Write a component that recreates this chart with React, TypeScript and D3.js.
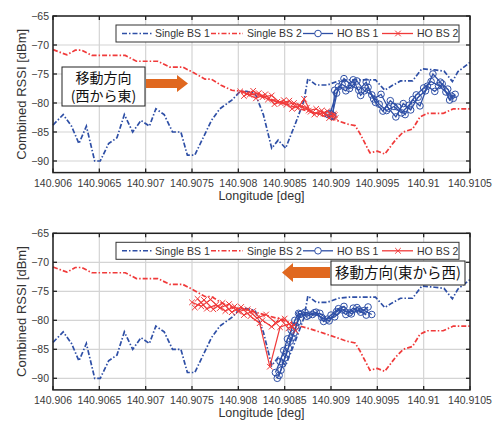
import React from "react";
import * as d3 from "d3";

type Pt = [number, number];

// axis ticks
const lonTicks = [140.906, 140.9065, 140.907, 140.9075, 140.908, 140.9085, 140.909, 140.9095, 140.91, 140.9105];
const lonLabels = ["140.906", "140.9065", "140.907", "140.9075", "140.908", "140.9085", "140.909", "140.9095", "140.91", "140.9105"];
const rssiTicks = [-65, -70, -75, -80, -85, -90];

const legendNames = ["Single BS 1", "Single BS 2", "HO BS 1", "HO BS 2"];

// single base station measurements (same in both panels)
const singleBs1: Pt[] = [
  [140.906, -83.8], [140.90611, -82.0], [140.9062, -84.0], [140.90628, -87.0], [140.90636, -84.0],
  [140.90645, -90.0], [140.90651, -90.0], [140.9066, -87.0], [140.90669, -86.0], [140.90677, -82.0],
  [140.90686, -85.0], [140.90695, -83.0], [140.90704, -84.0], [140.90711, -81.0], [140.9072, -82.0],
  [140.90729, -85.0], [140.90738, -85.0], [140.90745, -89.0], [140.90753, -89.0], [140.90762, -86.0],
  [140.90771, -83.0], [140.9078, -81.0], [140.90793, -79.5], [140.90802, -78.0], [140.90809, -78.0],
  [140.90818, -78.3], [140.90827, -82.0], [140.90836, -87.8], [140.90843, -86.4], [140.90851, -87.8],
  [140.90861, -83.8], [140.90871, -79.5], [140.90875, -75.8], [140.90884, -76.9], [140.90896, -76.9],
  [140.90908, -76.2], [140.9092, -76.0], [140.90935, -76.0], [140.90948, -76.0], [140.90958, -77.8],
  [140.90966, -77.0], [140.90975, -76.2], [140.90988, -76.2], [140.90998, -74.1], [140.91012, -74.3],
  [140.91022, -74.5], [140.91031, -76.3], [140.91037, -74.6], [140.9105, -73.0],
];

const singleBs2: Pt[] = [
  [140.906, -70.8], [140.90615, -71.7], [140.90624, -70.9], [140.90631, -70.9], [140.90642, -71.8],
  [140.90678, -71.8], [140.9069, -72.8], [140.90713, -72.8], [140.90726, -73.8], [140.9074, -73.8],
  [140.90752, -74.8], [140.90764, -75.9], [140.90771, -75.9], [140.90782, -77.0], [140.90793, -77.8],
  [140.90805, -78.0], [140.90825, -78.9], [140.90845, -79.8], [140.90862, -80.8], [140.9088, -81.6],
  [140.90899, -82.6], [140.90917, -83.6], [140.90926, -83.9], [140.90931, -85.2], [140.90942, -88.6],
  [140.9095, -88.3], [140.90958, -88.8], [140.9097, -86.3], [140.90978, -85.0], [140.90988, -84.5],
  [140.90996, -82.4], [140.91004, -81.8], [140.91021, -81.8], [140.91032, -81.0], [140.9105, -81.0],
];

// handover runs, west -> east (upper panel)
const hoBs1East: Pt[][] = [
  [[140.90897, -82.0], [140.90902, -82.1], [140.90904, -77.8], [140.90912, -76.8], [140.9092, -77.5],
   [140.90928, -76.2], [140.90936, -77.9], [140.90944, -78.6], [140.90952, -80.2], [140.9096, -81.3],
   [140.90968, -80.6], [140.90976, -81.7], [140.90984, -80.4], [140.90992, -78.6], [140.91, -77.4],
   [140.91008, -76.3], [140.91016, -77.0], [140.91024, -78.1], [140.91032, -79.2]],
  [[140.90899, -81.8], [140.90906, -78.3], [140.90914, -75.8], [140.90922, -76.9], [140.9093, -77.8],
   [140.90938, -76.4], [140.90946, -79.3], [140.90954, -78.5], [140.90962, -80.9], [140.9097, -82.4],
   [140.90978, -80.1], [140.90986, -81.2], [140.90994, -79.0], [140.91002, -77.9], [140.9101, -75.0],
   [140.91018, -76.4], [140.91026, -77.6], [140.9103, -78.8]],
  [[140.90901, -82.3], [140.90908, -77.2], [140.90916, -77.9], [140.90924, -76.0], [140.90932, -78.7],
   [140.9094, -77.3], [140.90948, -79.9], [140.90956, -81.4], [140.90964, -79.6], [140.90972, -80.7],
   [140.9098, -82.0], [140.90988, -79.4], [140.90996, -80.5], [140.91004, -77.1], [140.91012, -78.0],
   [140.9102, -76.7], [140.91028, -79.5], [140.91034, -78.5]],
];

const hoBs2East: Pt[][] = [
  [[140.90802, -78.0], [140.90812, -78.6], [140.90822, -78.3], [140.90832, -79.4], [140.90842, -79.8],
   [140.90852, -80.3], [140.9086, -80.0], [140.90868, -80.6], [140.90876, -81.3], [140.90884, -81.0],
   [140.90892, -81.8], [140.909, -82.2], [140.90905, -82.6]],
  [[140.90806, -78.8], [140.90816, -77.9], [140.90826, -79.0], [140.90836, -78.7], [140.90846, -80.1],
   [140.90855, -79.6], [140.90864, -80.9], [140.90871, -79.3], [140.90878, -81.5], [140.90888, -81.9],
   [140.90896, -81.4], [140.90904, -82.1]],
  [[140.90809, -78.4], [140.90819, -79.2], [140.90829, -78.5], [140.90839, -80.2], [140.90849, -79.5],
   [140.90858, -81.0], [140.90866, -80.4], [140.90874, -80.8], [140.90882, -82.0], [140.9089, -81.3],
   [140.90898, -82.6], [140.90903, -81.9]],
];

// handover runs, east -> west (lower panel)
const hoBs1West: Pt[][] = [
  [[140.90842, -90.0], [140.90846, -88.6], [140.9085, -86.5], [140.90854, -84.8], [140.90858, -83.0],
   [140.90862, -81.0], [140.90866, -79.0], [140.90872, -78.6], [140.9088, -79.0], [140.90888, -78.8],
   [140.90896, -79.8], [140.90904, -79.4], [140.90912, -78.2], [140.9092, -78.7], [140.90928, -77.8],
   [140.90936, -78.3], [140.90944, -79.0]],
  [[140.90844, -89.5], [140.90848, -87.5], [140.90852, -85.8], [140.90856, -83.6], [140.9086, -82.2],
   [140.90864, -80.3], [140.90868, -78.9], [140.90876, -79.1], [140.90884, -78.6], [140.90892, -80.2],
   [140.909, -79.1], [140.90908, -78.0], [140.90916, -79.0], [140.90924, -77.9], [140.90932, -78.6],
   [140.9094, -77.7]],
  [[140.9084, -89.0], [140.90845, -87.1], [140.90849, -85.2], [140.90853, -83.2], [140.90857, -81.7],
   [140.90861, -80.0], [140.90865, -78.8], [140.90874, -79.3], [140.90882, -78.7], [140.9089, -79.5],
   [140.90898, -80.1], [140.90906, -78.5], [140.90914, -77.6], [140.90922, -78.9], [140.9093, -78.2],
   [140.90938, -79.1]],
];

const hoBs2West: Pt[][] = [
  [[140.9075, -76.9], [140.9076, -77.6], [140.9077, -76.4], [140.9078, -77.9], [140.9079, -77.2],
   [140.908, -78.5], [140.9081, -78.1], [140.9082, -79.6], [140.9083, -79.0], [140.9084, -80.4],
   [140.9085, -79.7], [140.90858, -81.2]],
  [[140.90753, -77.8], [140.90763, -76.5], [140.90773, -78.1], [140.90783, -77.0], [140.90793, -78.6],
   [140.90803, -77.7], [140.90813, -79.3], [140.90823, -80.5], [140.90834, -88.0], [140.90845, -81.2],
   [140.90855, -80.6], [140.90862, -81.8]],
  [[140.90756, -76.3], [140.90766, -78.0], [140.90776, -77.3], [140.90786, -78.4], [140.90796, -77.6],
   [140.90806, -79.1], [140.90816, -78.4], [140.90826, -80.0], [140.90836, -81.1], [140.90846, -79.9],
   [140.90854, -81.4], [140.9086, -80.8]],
];

const BLUE = "#2e4fa6";
const RED = "#f03a3a";
const ORANGE = "#e0681f";
const DASHDOT = "5 2 1.5 2";
const FONT = "'Liberation Sans', Arial, sans-serif";
const JP = "'Noto Sans CJK JP', sans-serif";

const L = 53;
const R = 470;

function Cross({ cx, cy }: { cx: number; cy: number }) {
  const s = 2.8;
  return (
    <path d={`M${cx - s},${cy - s}L${cx + s},${cy + s}M${cx - s},${cy + s}L${cx + s},${cy - s}`}
      stroke={RED} strokeWidth={1} />
  );
}

function Chart({ top, hoBs1, hoBs2, east }: { top: number; hoBs1: Pt[][]; hoBs2: Pt[][]; east: boolean }) {
  const bottom = top + 27 * 5.8;
  const x = d3.scaleLinear().domain([140.906, 140.9105]).range([L, R]);
  const y = d3.scaleLinear().domain([-92, -65]).range([bottom, top]);
  const line = d3.line<Pt>().x(d => x(d[0])).y(d => y(d[1]));
  const ly = top + 17.5;

  return (
    <g>
      {/* grid */}
      {lonTicks.map(t => (
        <line key={"gx" + t} x1={x(t)} x2={x(t)} y1={top} y2={bottom} stroke="#d4d4d4" strokeWidth={1.2} />
      ))}
      {rssiTicks.map(t => (
        <line key={"gy" + t} x1={L} x2={R} y1={y(t)} y2={y(t)} stroke="#d4d4d4" strokeWidth={1.2} />
      ))}

      {/* data */}
      <path d={line(singleBs1) || ""} fill="none" stroke={BLUE} strokeWidth={1.7} strokeDasharray={DASHDOT} />
      <path d={line(singleBs2) || ""} fill="none" stroke={RED} strokeWidth={1.7} strokeDasharray={DASHDOT} />
      {hoBs1.map((run, i) => (
        <g key={"b" + i}>
          <path d={line(run) || ""} fill="none" stroke={BLUE} strokeWidth={1.3} />
          {run.map((p, j) => (
            <circle key={j} cx={x(p[0])} cy={y(p[1])} r={3.3} fill="none" stroke={BLUE} strokeWidth={1} />
          ))}
        </g>
      ))}
      {hoBs2.map((run, i) => (
        <g key={"r" + i}>
          <path d={line(run) || ""} fill="none" stroke={RED} strokeWidth={1.2} />
          {run.map((p, j) => <Cross key={j} cx={x(p[0])} cy={y(p[1])} />)}
        </g>
      ))}

      {/* frame and ticks */}
      <rect x={L} y={top} width={R - L} height={bottom - top} fill="none" stroke="#222" strokeWidth={1.5} />
      {lonTicks.map(t => (
        <g key={"tx" + t}>
          <line x1={x(t)} x2={x(t)} y1={bottom} y2={bottom - 4} stroke="#222" strokeWidth={1.3} />
          <line x1={x(t)} x2={x(t)} y1={top} y2={top + 4} stroke="#222" strokeWidth={1.3} />
        </g>
      ))}
      {rssiTicks.map(t => (
        <g key={"ty" + t}>
          <line x1={L} x2={L + 4} y1={y(t)} y2={y(t)} stroke="#222" strokeWidth={1.3} />
          <line x1={R} x2={R - 4} y1={y(t)} y2={y(t)} stroke="#222" strokeWidth={1.3} />
          <text x={L - 4} y={y(t) + 4} textAnchor="end" fontSize={10.5} fill="#3a3a3a" fontFamily={FONT}>
            {String(t).replace("-", "\u2212")}
          </text>
        </g>
      ))}
      {lonTicks.map((t, i) => (
        <text key={"lx" + t} x={x(t)} y={bottom + 14} textAnchor="middle" fontSize={10.5} fill="#3a3a3a" fontFamily={FONT}>
          {lonLabels[i]}
        </text>
      ))}
      <text x={(L + R) / 2} y={bottom + 27.5} textAnchor="middle" fontSize={12.5} fill="#333" fontFamily={FONT}>
        Longitude [deg]
      </text>
      <text transform={`translate(21.5,${(top + bottom) / 2}) rotate(-90)`} textAnchor="middle" dy="0.35em"
        fontSize={13} fill="#333" fontFamily={FONT}>
        Combined RSSI [dBm]
      </text>

      {/* legend */}
      <rect x={116} y={top + 9} width={343} height={17} fill="#fff" stroke="#333" strokeWidth={1} />
      <line x1={122} x2={152} y1={ly} y2={ly} stroke={BLUE} strokeWidth={1.4} strokeDasharray={DASHDOT} />
      <text x={155} y={ly + 3.8} fontSize={10.5} fill="#333" fontFamily={FONT}>{legendNames[0]}</text>
      <line x1={211} x2={243} y1={ly} y2={ly} stroke={RED} strokeWidth={1.4} strokeDasharray={DASHDOT} />
      <text x={247} y={ly + 3.8} fontSize={10.5} fill="#333" fontFamily={FONT}>{legendNames[1]}</text>
      <line x1={303} x2={333} y1={ly} y2={ly} stroke={BLUE} strokeWidth={1.3} />
      <circle cx={318} cy={ly} r={3.3} fill="#fff" stroke={BLUE} strokeWidth={1} />
      <text x={337} y={ly + 3.8} fontSize={10.5} fill="#333" fontFamily={FONT}>{legendNames[2]}</text>
      <line x1={382} x2={413} y1={ly} y2={ly} stroke={RED} strokeWidth={1.3} />
      <Cross cx={398} cy={ly} />
      <text x={417} y={ly + 3.8} fontSize={10.5} fill="#333" fontFamily={FONT}>{legendNames[3]}</text>

      {/* direction note */}
      {east ? (
        <g>
          <rect x={62} y={67} width={83} height={39} fill="#fff" stroke="#222" strokeWidth={1} />
          <text x={103.5} y={82.5} textAnchor="middle" fontSize={14} fontFamily={JP} fill="#111">移動方向</text>
          <text x={103.5} y={101} textAnchor="middle" fontSize={14} fontFamily={JP} fill="#111">(西から東)</text>
          <path d="M146,79H177V75L188,83.5L177,92V88H146Z" fill={ORANGE} />
        </g>
      ) : (
        <g>
          <rect x={331} y={261} width={134} height={24} fill="#fff" stroke="#222" strokeWidth={1} />
          <text x={398} y={278} textAnchor="middle" fontSize={14.5} fontFamily={JP} fill="#111">移動方向(東から西)</text>
          <path d="M330,267H293V263L282,272.5L293,282V278H330Z" fill={ORANGE} />
        </g>
      )}
    </g>
  );
}

export default function App() {
  return (
    <svg width={498} height={421} style={{ position: "absolute", left: 0, top: 0, background: "#fff" }}>
      <rect width={498} height={421} fill="#fff" />
      <Chart top={16} hoBs1={hoBs1East} hoBs2={hoBs2East} east={true} />
      <Chart top={233.3} hoBs1={hoBs1West} hoBs2={hoBs2West} east={false} />
    </svg>
  );
}
